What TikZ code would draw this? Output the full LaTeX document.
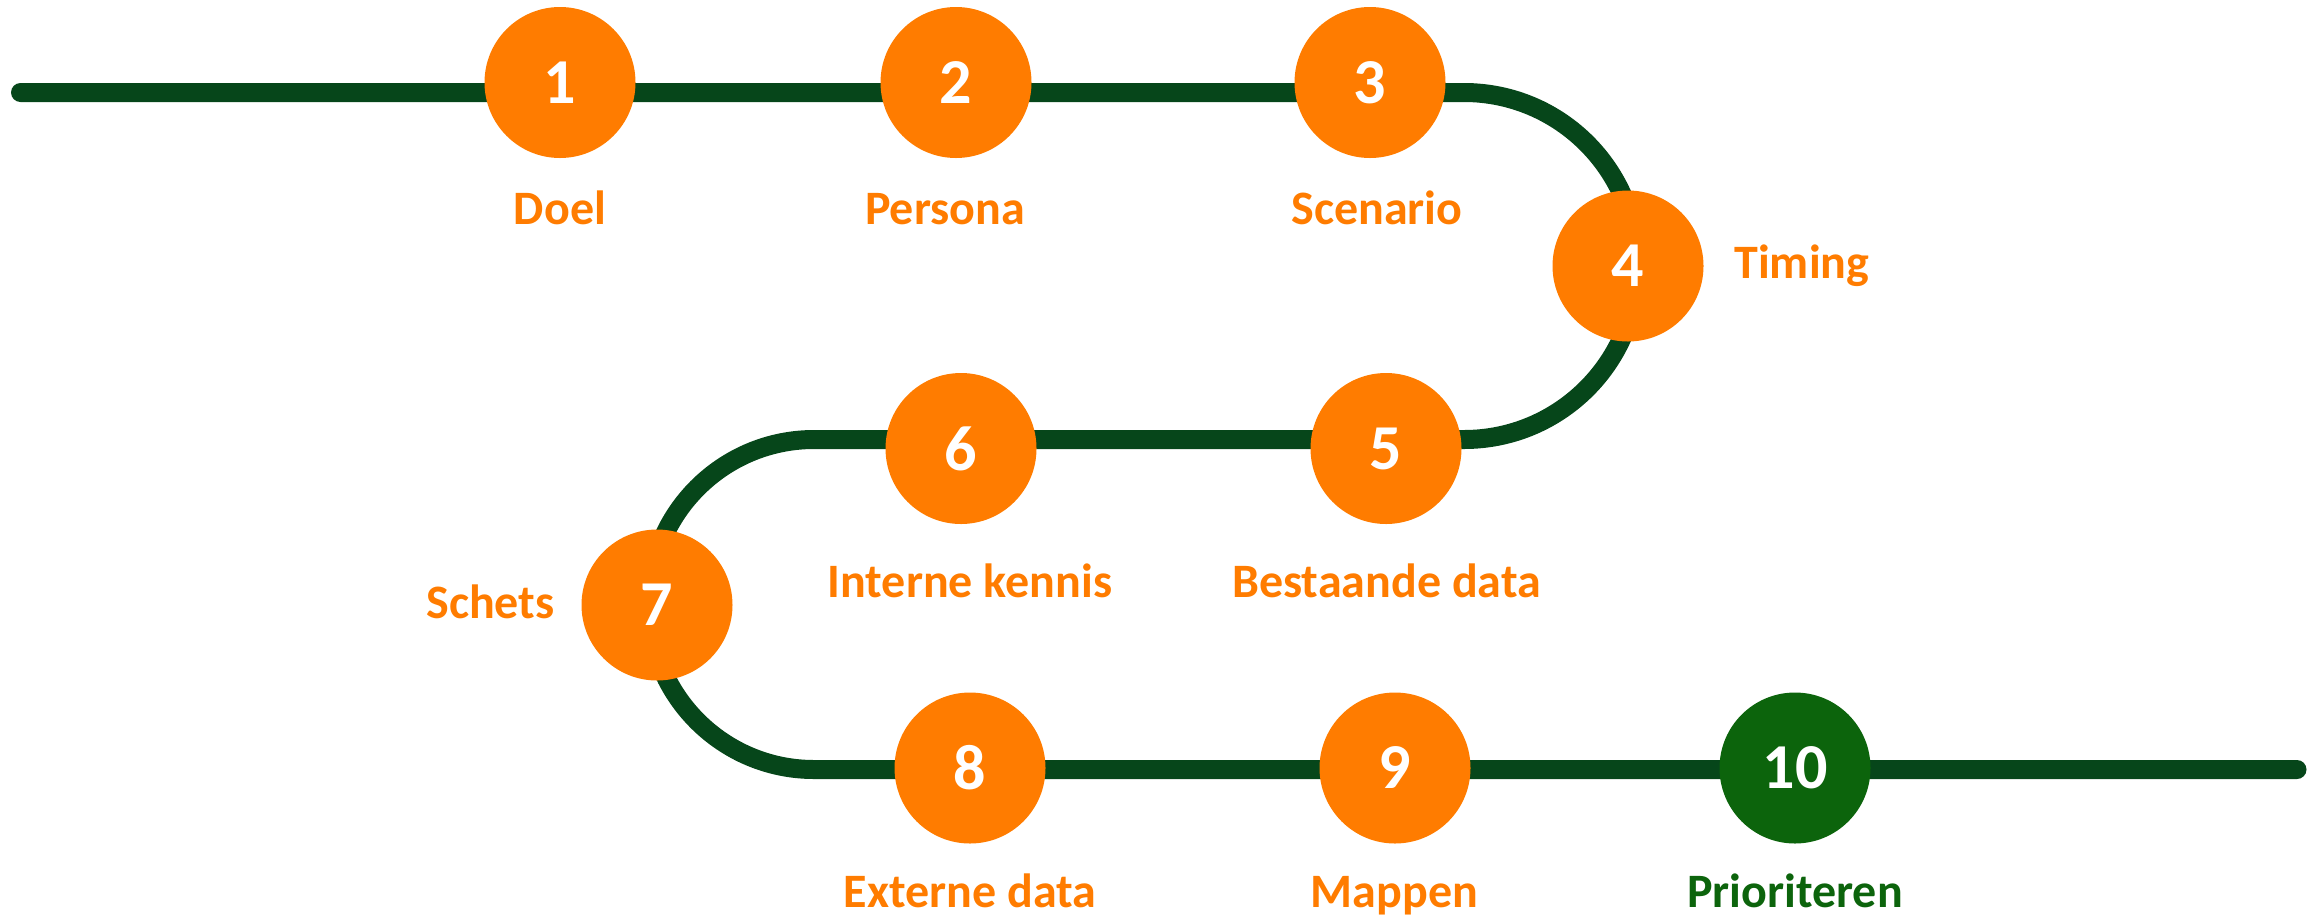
\documentclass[tikz,border=0pt]{standalone}
\usepackage{fontspec}
\setmainfont{Carlito}
\definecolor{trackgreen}{HTML}{06461A}
\definecolor{stoporange}{HTML}{FF7C00}
\definecolor{stopgreen}{HTML}{0C640C}

\begin{document}
\begin{tikzpicture}[x=0.5pt,y=0.5pt,
      stop node/.style={circle,fill=stoporange,text=white,minimum size=75.5pt,inner sep=0pt,
        font=\fontsize{32}{36}\selectfont\bfseries},
      stop label/.style={text=stoporange,inner sep=0pt,anchor=base,
        font=\fontsize{24}{28}\selectfont\bfseries}]
 \useasboundingbox (0,0) rectangle (2318,-917);
 % track
 \coordinate (start) at (20.5,-92.5);
 \coordinate (turn1) at (1464,-92.5);
 \coordinate (turn2) at (814,-439.5);
 \coordinate (finish) at (2297,-769.5);
 \draw[trackgreen, line width=9.5pt, line cap=round]
   (start) -- (turn1) arc (90:-90:173.5) -- (turn2) arc (90:270:165) -- (finish);

 % stops
 \node[stop node] (s1) at (560,-82.5) {1};
 \node[stop node] (s2) at (956,-82.5) {2};
 \node[stop node] (s3) at (1370,-82.5) {3};
 \node[stop node] (s4) at (1628,-266) {4};
 \node[stop node] (s5) at (1386,-448.5) {5};
 \node[stop node] (s6) at (961,-448.5) {6};
 \node[stop node] (s7) at (657,-605) {7};
 \node[stop node] (s8) at (970,-768) {8};
 \node[stop node] (s9) at (1395,-768) {9};
 \node[stop node, fill=stopgreen] (s10) at (1795,-768) {10};

 % labels
 \node[stop label] (doel) at (560,-224) {Doel};
 \node[stop label] (persona) at (945,-224) {Persona};
 \node[stop label] (scenario) at (1377,-224) {Scenario};
 \node[stop label, anchor=base west] (timing) at (1734,-278) {Timing};
 \node[stop label] (bestaande) at (1386.5,-597) {Bestaande data};
 \node[stop label] (intern) at (970,-597) {Interne kennis};
 \node[stop label, anchor=base east] (schets) at (555,-618) {Schets};
 \node[stop label] (extern) at (970,-907) {Externe data};
 \node[stop label] (mappen) at (1394.5,-907) {Mappen};
 \node[stop label, text=stopgreen] (prio) at (1795,-907) {Prioriteren};
\end{tikzpicture}
\end{document}
